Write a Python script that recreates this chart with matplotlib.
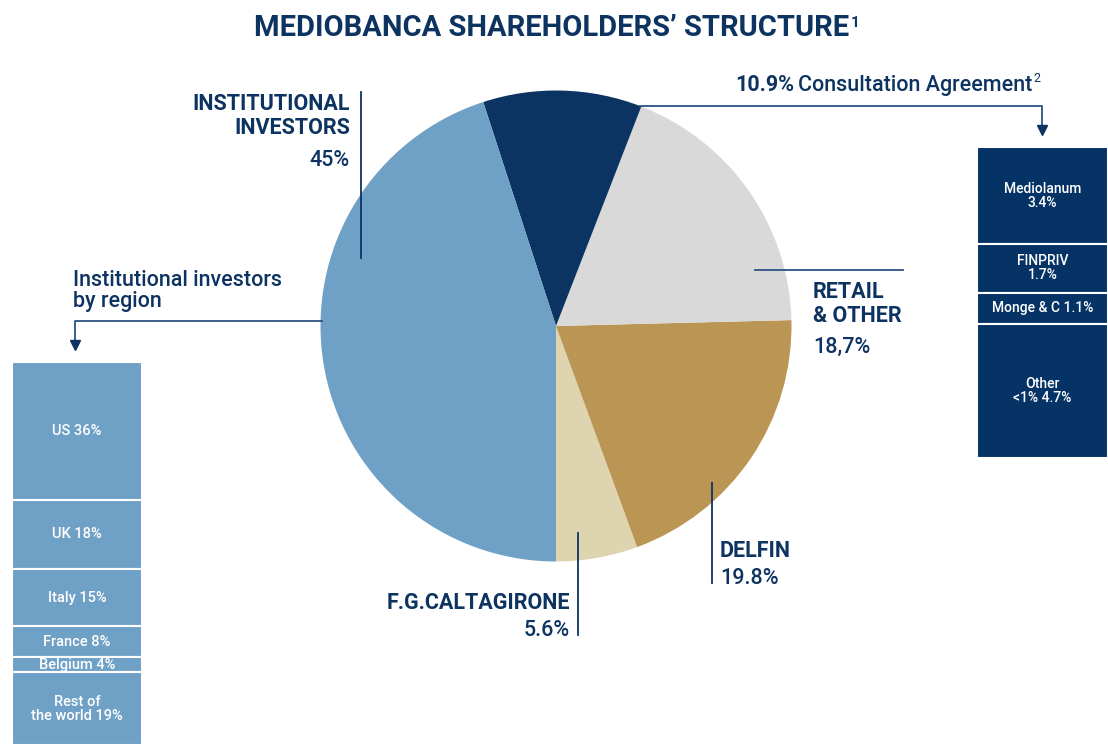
import matplotlib
matplotlib.use("Agg")
import matplotlib.pyplot as plt
from matplotlib import font_manager
import numpy as np

# ---------------- data ----------------
shareholders = ["F.G.CALTAGIRONE", "DELFIN", "RETAIL\n& OTHER", "Consultation Agreement", "INSTITUTIONAL\nINVESTORS"]
shares = [5.6, 19.8, 18.7, 10.9, 45.0]
share_labels = ["5.6%", "19.8%", "18,7%", "10.9%", "45%"]

regions = ["US", "UK", "Italy", "France", "Belgium", "Rest of\nthe world"]
region_pct = [36, 18, 15, 8, 4, 19]

agreement_names = ["Mediolanum", "FINPRIV", "Monge & C", "Other\n<1%"]
agreement_pct = [3.4, 1.7, 1.1, 4.7]
agreement_sep = ["\n", "\n", " ", " "]

title = "MEDIOBANCA SHAREHOLDERS\u2019 STRUCTURE"

# ---------------- style ----------------
NAVY = "#0d3461"
LINE = "#2c5283"
pie_colors = ["#ded4b0", "#bb9554", "#d9d9d9", "#0b3462", "#6fa0c6"]
REGION_COLOR = "#6fa0c6"
AGREE_COLOR = "#053366"

names = {f.name for f in font_manager.fontManager.ttflist}
FONT = "Liberation Sans Narrow" if "Liberation Sans Narrow" in names else "Roboto"
plt.rcParams["font.family"] = [FONT, "DejaVu Sans"]

W, H = 1108, 745
fig = plt.figure(figsize=(W / 100, H / 100), dpi=100)
ax = fig.add_axes([0, 0, 1, 1])


def Y(y):
    return H - y


# ---------------- pie ----------------
ax.pie(shares, colors=pie_colors, startangle=-90, counterclock=True,
       center=(556, Y(326)), radius=235.5, wedgeprops=dict(linewidth=0))
ax.set_xlim(0, W)
ax.set_ylim(0, H)
ax.set_aspect("equal")
ax.axis("off")

# ---------------- leader lines ----------------
lw = 1.3
ax.plot([361, 361], [Y(92), Y(258)], color=NAVY, lw=lw)
ax.plot([640, 1042, 1042], [Y(106), Y(106), Y(126)], color=LINE, lw=lw)
ax.plot([1042], [Y(130)], marker="v", color=NAVY, markersize=7)
ax.plot([755, 903], [Y(270), Y(270)], color=LINE, lw=lw)
ax.plot([712, 712], [Y(483), Y(583)], color=NAVY, lw=lw)
ax.plot([578, 578], [Y(533), Y(635)], color=NAVY, lw=lw)
ax.plot([322, 75, 75], [Y(321), Y(321), Y(341)], color=LINE, lw=lw)
ax.plot([75], [Y(345)], marker="v", color=NAVY, markersize=7)

# ---------------- labels ----------------
BSZ = 15.5
NSZ = 15.5
NW = "medium"
# multi-line texts: va='baseline' aligns the LAST line
ax.text(350, Y(134), shareholders[4], ha="right", va="baseline", ma="right",
        fontsize=BSZ, fontweight="bold", color=NAVY, linespacing=1.12)
ax.text(350, Y(166), share_labels[4], ha="right", va="baseline",
        fontsize=NSZ, fontweight=NW, color=NAVY)

ax.text(813, Y(322), shareholders[2], ha="left", va="baseline",
        fontsize=BSZ, fontweight="bold", color=NAVY, linespacing=1.12)
ax.text(813, Y(353), share_labels[2], ha="left", va="baseline",
        fontsize=NSZ, fontweight=NW, color=NAVY)

ax.text(720, Y(557), shareholders[1], ha="left", va="baseline",
        fontsize=BSZ, fontweight="bold", color=NAVY)
ax.text(720, Y(584), share_labels[1], ha="left", va="baseline",
        fontsize=NSZ, fontweight=NW, color=NAVY)

ax.text(570, Y(609), shareholders[0], ha="right", va="baseline",
        fontsize=BSZ, fontweight="bold", color=NAVY)
ax.text(570, Y(636), share_labels[0], ha="right", va="baseline",
        fontsize=NSZ, fontweight=NW, color=NAVY)

fig.canvas.draw()
renderer = fig.canvas.get_renderer()
inv = ax.transData.inverted()


def right_edge(t):
    bb = t.get_window_extent(renderer)
    return inv.transform((bb.x1, bb.y1))[0]


t1 = ax.text(735, Y(91), share_labels[3], ha="left", va="baseline",
             fontsize=15.5, fontweight="bold", color=NAVY)
x1 = right_edge(t1)
t2 = ax.text(x1 + 4, Y(91), shareholders[3], ha="left", va="baseline",
             fontsize=15.5, fontweight=NW, color=NAVY)
x2 = right_edge(t2)
ax.text(x2 + 1, Y(82), "2", ha="left", va="baseline", fontsize=9, color=NAVY)

ax.text(73, Y(307), "Institutional investors\nby region", ha="left", va="baseline",
        fontsize=15.5, fontweight=NW, color=NAVY, linespacing=0.98)

tt = ax.text(552, Y(36), title, ha="center", va="baseline",
             fontsize=21, fontweight="bold", color=NAVY)
xt = right_edge(tt)
ax.text(xt + 1, Y(27), "1", ha="left", va="baseline", fontsize=11,
        fontweight="bold", color=NAVY)

# ---------------- region stacked box ----------------
top, bottom = Y(362), Y(745)
vals = np.array(region_pct, dtype=float)
hts = vals / vals.sum() * (top - bottom)
cur = top
for name, p, h in zip(regions, region_pct, hts):
    ax.bar(77, h, width=130, bottom=cur - h, color=REGION_COLOR,
           edgecolor="white", linewidth=1.5, align="center")
    ax.text(77, cur - h / 2, f"{name} {p}%", ha="center", va="center",
            ma="center", fontsize=10.5, fontweight=NW, color="white", linespacing=1.0)
    cur -= h

# ---------------- agreement stacked box ----------------
top, bottom = Y(147), Y(458)
vals = np.array(agreement_pct, dtype=float)
hts = vals / vals.sum() * (top - bottom)
cur = top
for name, p, s, h in zip(agreement_names, agreement_pct, agreement_sep, hts):
    ax.bar(1042.5, h, width=131, bottom=cur - h, color=AGREE_COLOR,
           edgecolor="white", linewidth=1.5, align="center")
    ax.text(1042.5, cur - h / 2, f"{name}{s}{p}%", ha="center", va="center",
            ma="center", fontsize=10, fontweight=NW, color="white", linespacing=1.0)
    cur -= h

ax.set_xlim(0, W)
ax.set_ylim(0, H)
fig.savefig("out.png", dpi=100, facecolor="white")
